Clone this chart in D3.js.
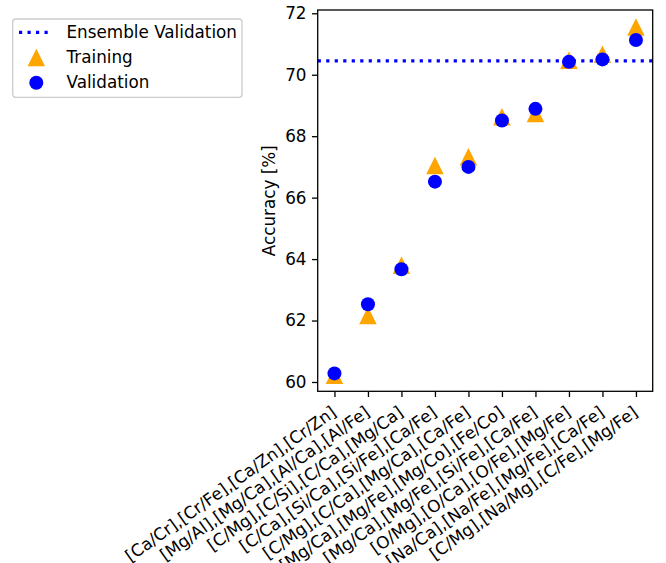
<!DOCTYPE html>
<html>
<head>
<meta charset="utf-8">
<script src="https://cdn.jsdelivr.net/npm/d3@7"></script>
<style>
  html, body { margin: 0; padding: 0; background: #fff; }
  svg { display: block; }
  text { font-family: "DejaVu Sans", sans-serif; }
</style>
</head>
<body>
<script>
const categories = [
  "[Ca/Cr],[Cr/Fe],[Ca/Zn],[Cr/Zn]",
  "[Mg/Al],[Mg/Ca],[Al/Ca],[Al/Fe]",
  "[C/Mg],[C/Si],[C/Ca],[Mg/Ca]",
  "[C/Ca],[Si/Ca],[Si/Fe],[Ca/Fe]",
  "[C/Mg],[C/Ca],[Mg/Ca],[Ca/Fe]",
  "[Mg/Ca],[Mg/Fe],[Mg/Co],[Fe/Co]",
  "[Mg/Ca],[Mg/Fe],[Si/Fe],[Ca/Fe]",
  "[O/Mg],[O/Ca],[O/Fe],[Mg/Fe]",
  "[Na/Ca],[Na/Fe],[Mg/Fe],[Ca/Fe]",
  "[C/Mg],[Na/Mg],[C/Fe],[Mg/Fe]"
];
const training = [60.22, 62.16, 63.80, 67.05, 67.33, 68.63, 68.74, 70.47, 70.67, 71.55];
const validation = [60.28, 62.53, 63.67, 66.52, 67.00, 68.51, 68.89, 70.42, 70.50, 71.13];
const ensembleValidation = 70.45;
const yTicks = [60, 62, 64, 66, 68, 70, 72];
const yLabel = "Accuracy [%]";
const legendLabels = ["Ensemble Validation", "Training", "Validation"];

const W = 666, H = 563;
const FS = 16.8;
const plot = { left: 317.7, right: 652.7, top: 10, bottom: 391.3 };
const ORANGE = "#ffa500", BLUE = "#0000ff";
const ROT = 35.5;

const svg = d3.select("body").append("svg").attr("width", W).attr("height", H);

const x = d3.scalePoint().domain(categories).range([plot.left, plot.right]).padding(0.5);
const y = d3.scaleLinear().domain([59.697, 72.107]).range([plot.bottom, plot.top]);

// ensemble line
svg.append("line")
  .attr("x1", plot.left).attr("x2", plot.right)
  .attr("y1", y(ensembleValidation)).attr("y2", y(ensembleValidation))
  .attr("stroke", BLUE).attr("stroke-width", 3.2)
  .attr("stroke-dasharray", "3.2,5.3");

// triangles (training)
const triSize = 17.5;
function triPath(cx, cy, s) {
  const h = s / 2;
  return `M${cx},${cy - h}L${cx + h},${cy + h}L${cx - h},${cy + h}Z`;
}
svg.append("g").selectAll("path").data(training).join("path")
  .attr("d", (d, i) => triPath(x(categories[i]), y(d), triSize))
  .attr("fill", ORANGE);

// circles (validation)
svg.append("g").selectAll("circle").data(validation).join("circle")
  .attr("cx", (d, i) => x(categories[i]))
  .attr("cy", d => y(d))
  .attr("r", 7)
  .attr("fill", BLUE);

// axes frame
svg.append("rect")
  .attr("x", plot.left).attr("y", plot.top)
  .attr("width", plot.right - plot.left).attr("height", plot.bottom - plot.top)
  .attr("fill", "none").attr("stroke", "#000").attr("stroke-width", 1.3);

// y axis
const yAxis = d3.axisLeft(y).tickValues(yTicks).tickSize(5.7).tickPadding(5.5).tickFormat(d3.format("d"));
const gy = svg.append("g").attr("transform", `translate(${plot.left},0)`).call(yAxis);
gy.select(".domain").remove();
gy.selectAll(".tick line").attr("stroke", "#000").attr("stroke-width", 1.3);
gy.selectAll(".tick text").attr("font-size", FS).attr("fill", "#000")
  .attr("font-family", "DejaVu Sans");

// x axis
const xAxis = d3.axisBottom(x).tickSize(5.7).tickFormat("");
const gx = svg.append("g").attr("transform", `translate(0,${plot.bottom})`).call(xAxis);
gx.select(".domain").remove();
gx.selectAll(".tick line").attr("stroke", "#000").attr("stroke-width", 1.3);

// rotated x labels
svg.append("g").selectAll("text").data(categories).join("text")
  .attr("transform", d => `translate(${x(d) + 3},${plot.bottom + 23.5}) rotate(${-ROT})`)
  .attr("text-anchor", "end")
  .attr("font-size", FS)
  .attr("fill", "#000")
  .text(d => d);

// y label
svg.append("text")
  .attr("transform", `translate(269,${(plot.top + plot.bottom) / 2}) rotate(-90)`)
  .attr("text-anchor", "middle")
  .attr("dominant-baseline", "central")
  .attr("font-size", FS)
  .attr("fill", "#000")
  .text(yLabel);

// legend
const lg = svg.append("g");
lg.append("rect")
  .attr("x", 12.7).attr("y", 19).attr("width", 229.3).attr("height", 78.3)
  .attr("rx", 3).attr("fill", "#fff").attr("fill-opacity", 0.8)
  .attr("stroke", "#cccccc").attr("stroke-width", 1.3);
const rowsY = [32.3, 56.9, 81.5];
lg.append("line")
  .attr("x1", 19).attr("x2", 52).attr("y1", rowsY[0]).attr("y2", rowsY[0])
  .attr("stroke", BLUE).attr("stroke-width", 3.2).attr("stroke-dasharray", "3.2,5.3");
lg.append("path").attr("d", triPath(36.3, rowsY[1] + 0.6, triSize)).attr("fill", ORANGE);
lg.append("circle").attr("cx", 36.3).attr("cy", rowsY[2] + 1.2).attr("r", 7).attr("fill", BLUE);
lg.selectAll("text.lbl").data(legendLabels).join("text")
  .attr("class", "lbl")
  .attr("x", 66.5)
  .attr("y", (d, i) => rowsY[i])
  .attr("dominant-baseline", "central")
  .attr("font-size", FS)
  .attr("fill", "#000")
  .text(d => d);
</script>
</body>
</html>
